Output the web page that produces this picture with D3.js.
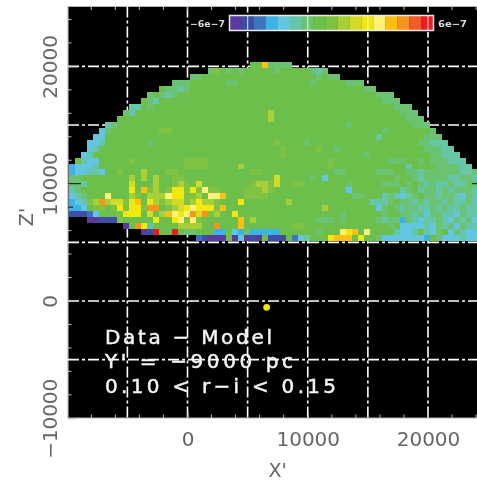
<!DOCTYPE html>
<html>
<head>
<meta charset="utf-8">
<script src="https://cdn.jsdelivr.net/npm/d3@7/dist/d3.min.js"></script>
<style>
html,body{margin:0;padding:0;background:#fff;}
svg{display:block;filter:blur(0.65px);}
text{font-family:"DejaVu Sans",sans-serif;}
</style>
</head>
<body>
<svg id="c" width="477" height="482"></svg>
<script>
// Colour levels, residual density in units of 1e-7
const levelKeys = "abcdefghijklmnopq".split("");
const levelColors = ["#5b3a9d","#3b50a4","#3f74ba","#3eb1e6","#62c6e0","#66c6a8","#6bc270","#6bbf4a","#80c342","#a8cf38","#d2dc28","#f1e80f","#fff27a","#fdc010","#f7941e","#f15a29","#ed1c24"];
const levelValues = [-5.65,-4.95,-4.25,-3.55,-2.8,-2.1,-1.4,-0.7,0,0.7,1.4,2.1,2.8,3.55,4.25,4.95,5.65];

// Map rows, top to bottom; columns grouped in tens, "." = no data
const row00 = ".......... .......... .......... hhngggg... .......... .......... .......... ........";
const row01 = ".......... .......... ...gihghgh hhhhghhhhh gfg....... .......... .......... ........";
const row02 = ".......... .......... gghhhhhhhh hhhhhhhhhh hghgg..... .......... .......... ........";
const row03 = ".......... .......ggg hhhhhhgghh hhhhhhhhhh ghhhhhggg. .......... .......... ........";
const row04 = ".......... .....hggfg hhhhhhhhhh hhhhhhhhhh hhhhhhhhhg g......... .......... ........";
const row05 = ".......... ...ghgfghh hhhhhhhhhh hhhhhhhhhh hhhhhhhhhh hggg...... .......... ........";
const row06 = ".......... ..hgfhhhhh hhhhhhhhhh hhhhhhhhhh hhhhhhhhhh hhggg..... .......... ........";
const row07 = ".......... ffhghhhhhh hhhhhhhhhh hhhhhhhhhh hhhhhhhhhh hhhhggg... .......... ........";
const row08 = ".........g fhhhhhhhhh hhhhhhhhhh hhhjhhhhhh hhhhhhhhhh hhhhhggg.. .......... ........";
const row09 = "........hh hhhhhhhhhh hhhhhhhhhh hhhjhhhhhh hhhhhhhhhh hhhhhhggg. .......... ........";
const row10 = "......fghh hhhhhhhhhh hhhhhhhhhh hhhhhhhhhh hhhhhhghhh hhhhhhhggg .......... ........";
const row11 = ".....eghhh hhhhhiihhh hhhhhhhhhh hhhhhhhhhh hhhhhhhhhh hhghhhhhhh g......... ........";
const row12 = "....eehhhh hhhhhhhhhh hhhhhhhhhh hhhhhhhhhh hhhhhhhhhh hfhhhhhhhg gg........ ........";
const row13 = "...eefhhhh hhhghhhhhh hhhhhhhhhh hhhhihhhhg hhhhhhhhhh hhhhhhhhgg fff....... ........";
const row14 = "...efhhhhh hhhhhhhhhh hhhhhhhhhh hhhhhihhhh hihhghhhhh hhhhhhhhhg ggff...... ........";
const row15 = "..efhhhhhh hhhhhhhhhh hhhhhhhhhh hhhhhihhhh hhhhhhhhhg hhhhhhhhhh ggfff..... ........";
const row16 = ".hfeehhhhh ihhhhhhhhi iiihhhhhhh hhhhhhhhhh hhhihhhhhh hhhggghhgh gggfff.... ........";
const row17 = "deeefhhhhh hhhhhhhhhi iiihhhhhjh hhhhhhhhhh hhhihhhhhh hhhhhhfhhh hggggff.";
const row18 = "deeffehhih hhjhhhiihh hhhhhhhhhh iihhhhhhhh hhhhgghhhh hggghhggfg gggggffg";
const row19 = "gghhhhhhhh jhjhjhhiih hhhhhhhhhh hhhhkhhhhh ghehhhhhhh hhhhghhgfg gggffggf";
const row20 = "ggfhhhhhhh khhhjhhiji hkhhhhhhhh ijjikhhiih hhhhhhghhh hhggghghgf gffgffgg";
const row21 = "fghhhhhhhh lhnijhilli limiihhhhi iijihhhhhh hhhhhhehhh hhhhhfghfg gfgfgggf";
const row22 = "efghhhmhhh jihjjjmlli ijhmmnhhhi iiihhhhhhh hhhhhhhggh hhfgfefghg gfggfegf";
const row23 = "defijojkki lnhljijkki jljjihhhlh hhhhhhjhhh hhhhhhhhhh fffghggfgf ggfgffgf";
const row24 = "ddehiihili llioohijkl mlllinhhhh hhhhhhhhhh hhjhhhhhhh heghgfggff gfgffgff";
const row25 = "bbbcehhhil llhkhjnmlm okoijhhlhh hhhhhhhhhh hhhhhghhhh hhghhggfge ggffegff";
const row26 = "...aabbbih hhhhlhhlmi mihhhhhhnh jhhhhhhhhh hggghghhhh hgfggdgfef fgfegfge";
const row27 = ".........a holfhhhhjj jjhhohhhnh hhhhhhhiih hhhhhhhhhh hhhgheeeef egfgegff";
const row28 = ".......... ..abqhhqhg ghhhddhedg dddddhhhhh hghhhmlnhm hhhhfeefhf eghegfee";
const row29 = ".......... .......... .cbaaahaea bahbbbhcef hhhlnnnhlh hgeeeeeeed hgeeefee";
const rows = [row00,row01,row02,row03,row04,row05,row06,row07,row08,row09,row10,row11,row12,row13,row14,row15,row16,row17,row18,row19,row20,row21,row22,row23,row24,row25,row26,row27,row28,row29];

const xMajorTicks = [0,10000,20000];
const xMinorTicks = [-8000,-6000,-4000,-2000,2000,4000,6000,8000,12000,14000,16000,18000,22000,24000];
const zMajorTicks = [-10000,0,10000,20000];
const zMinorTicks = [-8000,-6000,-4000,-2000,2000,4000,6000,8000,12000,14000,16000,18000,22000,24000];
const xGrid = [-5000,0,5000,10000,15000,20000];
const zGrid = [-5000,0,5000,10000,15000,20000];
const annotations = ["Data \u2212 Model","Y' = \u22129000 pc","0.10 < r\u2212i < 0.15"];
const sun = {x:6580,z:-540};
const binX = 500, binZ = 507, originX = -9830, originZ = 5128;

const svg = d3.select("#c");
const x = d3.scaleLinear().domain([0,20000]).range([187.5,428]);
const z = d3.scaleLinear().domain([0,20000]).range([301,66.4]);
const L = 68, R = 477, T = 6.5, B = 418;
const colorOf = d3.scaleOrdinal().domain(levelValues).range(levelColors);

svg.append("rect").attr("x",L).attr("y",T).attr("width",R-L).attr("height",B-T).attr("fill","#000");

// frame
svg.append("path").attr("d",`M${R},${T}H${L}V${B}H${R}`).attr("fill","none").attr("stroke","#b5b5b5").attr("stroke-width",1.2);

// grid
const dash = "11 3 3 3";
svg.append("g").selectAll("line").data(xGrid).join("line")
  .attr("x1",d=>x(d)).attr("x2",d=>x(d)).attr("y1",T).attr("y2",B)
  .attr("stroke","#fff").attr("stroke-width",1.6).attr("stroke-dasharray",dash);
svg.append("g").selectAll("line").data(zGrid).join("line")
  .attr("x1",L).attr("x2",R).attr("y1",d=>z(d)).attr("y2",d=>z(d))
  .attr("stroke","#fff").attr("stroke-width",1.6).attr("stroke-dasharray",dash);

// axes
const axX = svg.append("g").attr("transform",`translate(0,${B})`)
  .call(d3.axisBottom(x).tickValues(xMajorTicks).tickFormat(d3.format("d")).tickSizeInner(-6).tickSizeOuter(0).tickPadding(12));
const axZ = svg.append("g").attr("transform",`translate(${L},0)`)
  .call(d3.axisLeft(z).tickValues(zMajorTicks).tickFormat(d=>d<0?"\u2212"+Math.abs(d):String(d)).tickSizeInner(-8).tickSizeOuter(0).tickPadding(0));
[axX,axZ].forEach(a=>{a.select(".domain").remove();a.selectAll("line").attr("stroke","#bbb").attr("stroke-width",1);});
axX.selectAll("text").attr("font-size",20).attr("fill","#666").attr("y",28).attr("dy",0);
axZ.selectAll("text").attr("font-size",20).attr("fill","#666").attr("text-anchor","middle")
  .attr("x",0).attr("y",0).attr("dy",0)
  .attr("transform",`translate(${57-L},0) rotate(-90)`)
  .attr("textLength",d=>d<0?80:null).attr("lengthAdjust","spacing");

const minor = svg.append("g").attr("stroke","#bbb").attr("stroke-width",1);
minor.selectAll(".b").data(xMinorTicks).join("line").attr("class","b")
  .attr("x1",d=>x(d)).attr("x2",d=>x(d)).attr("y1",B).attr("y2",B-3.5);
minor.selectAll(".t").data(xMinorTicks.concat(xMajorTicks)).join("line").attr("class","t")
  .attr("x1",d=>x(d)).attr("x2",d=>x(d)).attr("y1",T).attr("y2",T+3.5);
minor.selectAll(".l").data(zMinorTicks).join("line").attr("class","l")
  .attr("x1",L).attr("x2",L+3.5).attr("y1",d=>z(d)).attr("y2",d=>z(d));

// heat map
const cells = [];
rows.forEach((s,r)=>{
  s.replace(/ /g,"").split("").forEach((ch,c)=>{
    const k = levelKeys.indexOf(ch);
    if(k>=0) cells.push({c,r,v:levelValues[k]});
  });
});
const nRows = rows.length;
svg.append("g").attr("shape-rendering","crispEdges").selectAll("rect").data(cells).join("rect")
  .attr("x",d=>x(originX+d.c*binX))
  .attr("width",d=>x(originX+(d.c+1)*binX)-x(originX+d.c*binX)+0.3)
  .attr("y",d=>z(originZ+(nRows-d.r)*binZ))
  .attr("height",d=>z(originZ+(nRows-d.r-1)*binZ)-z(originZ+(nRows-d.r)*binZ)+0.3)
  .attr("fill",d=>colorOf(d.v));

// ticks seen dark over the map
svg.append("g").selectAll("line").data([10000,8000]).join("line")
  .attr("x1",L).attr("x2",d=>d==10000?L+13:L+5).attr("y1",d=>z(d)).attr("y2",d=>z(d))
  .attr("stroke","#111").attr("stroke-width",1);
svg.append("line").attr("x1",R-5).attr("x2",R).attr("y1",z(10000)).attr("y2",z(10000)).attr("stroke","#111");

// colour bar
svg.append("rect").attr("x",x(0)+1.5).attr("y",12.5).attr("width",R-x(0)-1.5).attr("height",19.5).attr("fill","#000");
const bar = d3.scaleBand().domain(levelValues).range([230,433]);
svg.append("g").selectAll("rect").data(levelValues).join("rect")
  .attr("x",d=>bar(d)).attr("width",bar.bandwidth()+0.3).attr("y",16).attr("height",14)
  .attr("fill",d=>colorOf(d));
svg.append("rect").attr("x",229.5).attr("y",15.5).attr("width",204).attr("height",15)
  .attr("fill","none").attr("stroke","#e8e8e8").attr("stroke-width",1.5);
svg.append("g").selectAll("line").data(xGrid.filter(d=>d>=5000)).join("line")
  .attr("x1",d=>x(d)).attr("x2",d=>x(d)).attr("y1",16).attr("y2",30)
  .attr("stroke","#fff").attr("stroke-width",1.2).attr("stroke-opacity",0.7);
svg.append("g").selectAll("text").data([["\u22126e\u22127",190,35],["6e\u22127",438,29]]).join("text")
  .attr("x",d=>d[1]).attr("y",27).attr("font-size",9).attr("font-weight","bold").attr("fill","#ddd")
  .attr("textLength",d=>d[2]).attr("lengthAdjust","spacingAndGlyphs").text(d=>d[0]);

// Sun marker
svg.append("circle").attr("cx",x(sun.x)).attr("cy",z(sun.z)).attr("r",3.4).attr("fill","#f2e600");

// annotation
const annoY = [344,367.5,392.5], annoW = [167,188,231];
svg.append("g").selectAll("text").data(annotations).join("text")
  .attr("x",105).attr("y",(d,i)=>annoY[i]).attr("font-size",20).attr("fill","#f4f4f4")
  .attr("stroke","#f4f4f4").attr("stroke-width",0.5)
  .attr("textLength",(d,i)=>annoW[i]).attr("lengthAdjust","spacing").text(d=>d);

// axis titles
svg.append("text").attr("x",277.5).attr("y",477).attr("text-anchor","middle").attr("font-size",19).attr("fill","#666").text("X'");
svg.append("text").attr("transform","translate(33,217) rotate(-90)").attr("text-anchor","middle").attr("font-size",19).attr("fill","#666").text("Z'");
</script>
</body>
</html>
